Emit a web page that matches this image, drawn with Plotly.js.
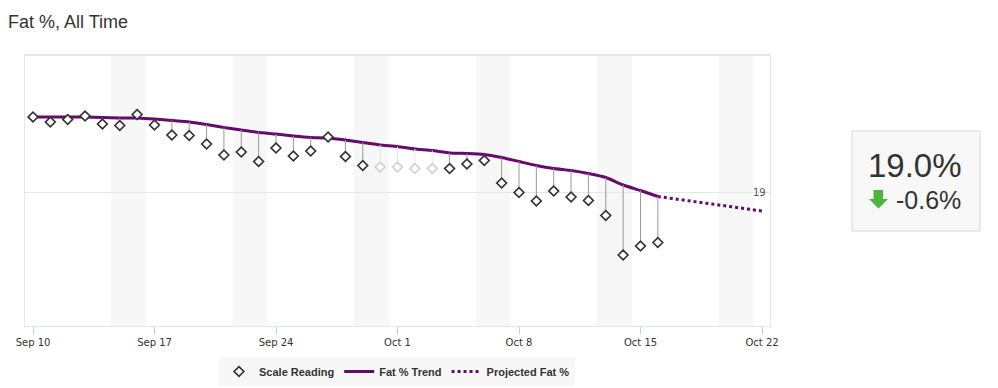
<!DOCTYPE html>
<html>
<head>
<meta charset="utf-8">
<script src="https://cdn.plot.ly/plotly-3.0.1.min.js"></script>
<style>
  html, body { margin: 0; padding: 0; background: #fff; }
  #chart { width: 998px; height: 388px; }
</style>
</head>
<body>
<div id="chart"></div>
<script>
// ---- data ----
const dates = [
  '2012-09-10','2012-09-11','2012-09-12','2012-09-13','2012-09-14','2012-09-15','2012-09-16',
  '2012-09-17','2012-09-18','2012-09-19','2012-09-20','2012-09-21','2012-09-22','2012-09-23',
  '2012-09-24','2012-09-25','2012-09-26','2012-09-27','2012-09-28','2012-09-29','2012-09-30',
  '2012-10-01','2012-10-02','2012-10-03','2012-10-04','2012-10-05','2012-10-06','2012-10-07',
  '2012-10-08','2012-10-09','2012-10-10','2012-10-11','2012-10-12','2012-10-13','2012-10-14',
  '2012-10-15','2012-10-16'
];
const scaleReading = [
  20.50, 20.40, 20.45, 20.52, 20.36, 20.33, 20.55,
  20.34, 20.14, 20.13, 19.96, 19.74, 19.80, 19.61,
  19.88, 19.72, 19.82, 20.10, 19.71, 19.53, 19.50,
  19.50, 19.47, 19.47, 19.47, 19.56, 19.63, 19.18,
  18.99, 18.82, 19.02, 18.90, 18.83, 18.53, 17.74,
  17.92, 17.99
];
const fatTrend = [
  20.50, 20.50, 20.50, 20.50, 20.49, 20.48, 20.48,
  20.46, 20.43, 20.40, 20.35, 20.29, 20.24, 20.19,
  20.16, 20.12, 20.09, 20.08, 20.04, 19.99, 19.94,
  19.91, 19.86, 19.83, 19.78, 19.77, 19.75, 19.69,
  19.61, 19.53, 19.47, 19.43, 19.37, 19.29, 19.14,
  19.03, 18.91
];
const estimatedDates = ['2012-09-30','2012-10-01','2012-10-02','2012-10-03'];
const projDates = ['2012-10-16','2012-10-22'];
const projFat = [18.91, 18.62];
const weekendStarts = ['2012-09-15','2012-09-22','2012-09-29','2012-10-06','2012-10-13','2012-10-20'];
const tickDates = ['2012-09-10','2012-09-17','2012-09-24','2012-10-01','2012-10-08','2012-10-15','2012-10-22'];
const tickLabels = ['Sep 10','Sep 17','Sep 24','Oct 1','Oct 8','Oct 15','Oct 22'];
const yTicks = [19];
const currentLabel = '19.0%';
const changeLabel = '-0.6%';

// ---- helpers ----
function shift(s, hours) {
  const d = new Date(s + 'T00:00:00Z');
  d.setTime(d.getTime() + hours * 3600000);
  return d.toISOString().slice(0, 19).replace('T', ' ');
}
// plot area in px: x 25..770, y 55..326
const L = 25, R = 770, T = 55, B = 326;
const px = X => (X - L) / (R - L);
const py = Y => (B - Y) / (B - T);

const TREND = '#660a6b';

function readingTrace(filterEst, name, color, stemColor, showlegend) {
  const x = [], y = [], up = [], dn = [];
  dates.forEach((d, i) => {
    const est = estimatedDates.includes(d);
    if (est !== filterEst) return;
    x.push(d); y.push(scaleReading[i]);
    const diff = fatTrend[i] - scaleReading[i];
    up.push(diff > 0 ? diff : 0);
    dn.push(diff < 0 ? -diff : 0);
  });
  return {
    type: 'scatter', mode: 'markers', name, x, y, showlegend, legendrank: 1,
    marker: { symbol: 'diamond', size: 7.5, color: '#ffffff', line: { color, width: 1.7 } },
    error_y: { type: 'data', symmetric: false, array: up, arrayminus: dn,
               color: stemColor, thickness: 1, width: 0 },
    hoverinfo: 'skip'
  };
}

const traces = [
  { type: 'scatter', mode: 'lines', name: 'Fat % Trend', x: dates, y: fatTrend, legendrank: 2,
    line: { color: TREND, width: 3, shape: 'spline', smoothing: 0.4 }, hoverinfo: 'skip' },
  { type: 'scatter', mode: 'lines', name: 'Projected Fat %', x: projDates, y: projFat, legendrank: 3,
    line: { color: TREND, width: 3, dash: 'dot' }, hoverinfo: 'skip' },
  readingTrace(true, 'Scale Reading (est.)', '#d0d0d0', '#e6e6e6', false),
  readingTrace(false, 'Scale Reading', '#333333', '#9a9a9a', true)
];

const shapes = weekendStarts.map(s => ({
  type: 'rect', xref: 'x', yref: 'paper', x0: shift(s, -12), x1: shift(s, 36), y0: 0, y1: 1,
  fillcolor: '#f7f7f7', line: { width: 0 }, layer: 'below'
}));
// top border slightly heavier
shapes.push({ type: 'line', xref: 'paper', yref: 'paper', x0: 0, x1: 1, y0: 1, y1: 1,
  line: { color: '#e6e6e6', width: 2 } });
// summary box
shapes.push({ type: 'rect', xref: 'paper', yref: 'paper', x0: px(852), x1: px(980), y0: py(231), y1: py(131),
  fillcolor: '#f8f8f8', line: { color: '#d8d8d8', width: 1 }, layer: 'below' });
// green down arrow
const arrow = [[873.5,190],[883,190],[883,199],[888,199],[878.5,208.5],[869,199],[873.5,199]];
shapes.push({ type: 'path', xref: 'paper', yref: 'paper',
  path: 'M' + arrow.map(p => px(p[0]).toFixed(5) + ',' + py(p[1]).toFixed(5)).join(' L') + ' Z',
  fillcolor: '#4fb43c', line: { width: 0 } });

const annotations = [
  { xref: 'paper', yref: 'paper', x: px(915), y: py(165), text: currentLabel, showarrow: false,
    xanchor: 'center', yanchor: 'middle', font: { family: 'Liberation Sans, Arial, sans-serif', size: 33, color: '#333' } },
  { xref: 'paper', yref: 'paper', x: px(928), y: py(200), text: changeLabel, showarrow: false,
    xanchor: 'center', yanchor: 'middle', font: { family: 'Liberation Sans, Arial, sans-serif', size: 25, color: '#333' } }
];
// y-axis tick labels, drawn inside the plot at the right edge
yTicks.forEach(v => annotations.push({
  xref: 'paper', yref: 'y', x: 1, y: v, text: String(v), showarrow: false,
  xanchor: 'right', yanchor: 'middle', xshift: -2, yshift: 0,
  font: { family: 'DejaVu Sans, sans-serif', size: 10, color: '#555' }
}));

const xStart = shift(dates[0], -11.06);
const xEnd = shift(tickDates[tickDates.length - 1], 11.06);

const layout = {
  width: 998, height: 388,
  margin: { l: L, r: 998 - R, t: T, b: 388 - B, autoexpand: false },
  paper_bgcolor: '#ffffff', plot_bgcolor: '#ffffff',
  title: { text: 'Fat %, All Time', x: 8 / 998, xref: 'container', xanchor: 'left',
           y: 1 - 22 / 388, yref: 'container', yanchor: 'middle',
           font: { family: 'Liberation Sans, Arial, sans-serif', size: 18, color: '#333' } },
  xaxis: {
    type: 'date', range: [xStart, xEnd], tickmode: 'array', tickvals: tickDates, ticktext: tickLabels,
    ticks: 'outside', ticklen: 7, tickcolor: '#c0d0e0', tickwidth: 1, ticklabeloverflow: 'allow',
    showgrid: false, zeroline: false, automargin: false,
    showline: true, linecolor: '#e6e6e6', linewidth: 1, mirror: true,
    tickfont: { family: 'DejaVu Sans, sans-serif', size: 10, color: '#333' }
  },
  yaxis: {
    range: [19 - (B - 192) / 50, 19 + (192 - T) / 50], tickmode: 'array', tickvals: yTicks,
    showticklabels: false, ticks: '', automargin: false,
    showgrid: true, gridcolor: '#e6e6e6', gridwidth: 1, zeroline: false,
    showline: true, linecolor: '#e6e6e6', linewidth: 1, mirror: true
  },
  showlegend: true,
  legend: {
    orientation: 'h', x: px(397), xanchor: 'center', y: py(357), yanchor: 'top',
    bgcolor: '#f7f7f7', borderwidth: 0, itemwidth: 30,
    font: { family: 'Liberation Sans, Arial, sans-serif', size: 11, color: '#333', weight: 'bold' }
  },
  shapes, annotations
};

Plotly.newPlot('chart', traces, layout, { staticPlot: true, displayModeBar: false });
</script>
</body>
</html>
